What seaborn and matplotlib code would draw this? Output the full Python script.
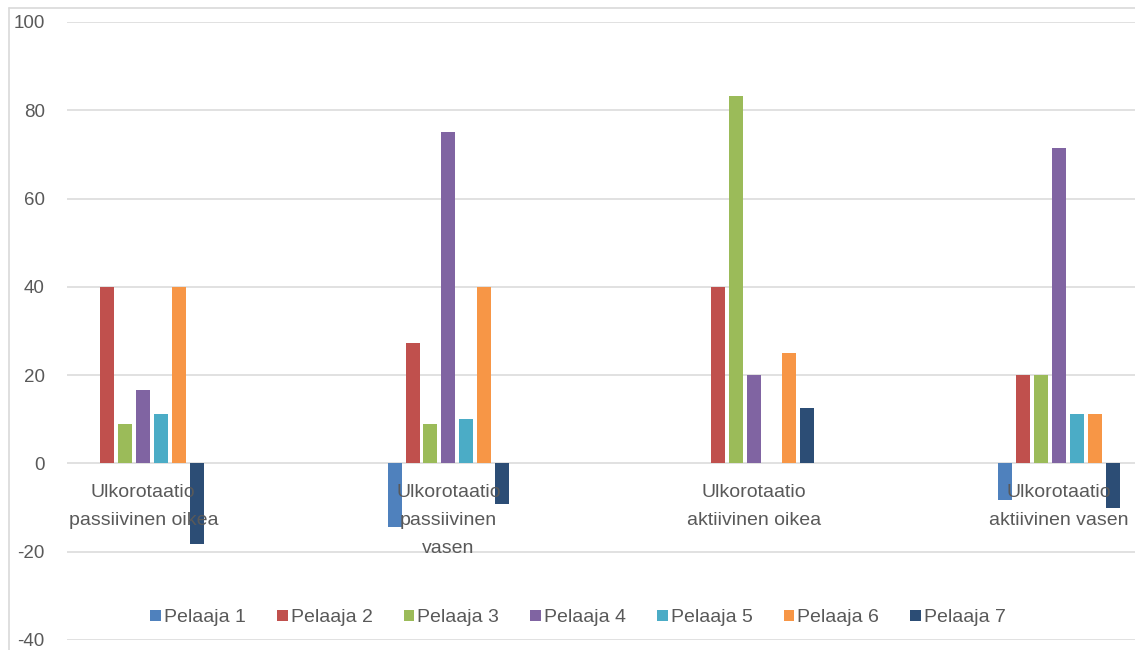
import matplotlib
matplotlib.use("Agg")
import matplotlib.pyplot as plt
from matplotlib.lines import Line2D
from matplotlib.patches import Patch
import seaborn as sns
import pandas as pd

# Category labels (wrapped as shown on the axis)
categories = [
    "Ulkorotaatio\npassiivinen oikea",
    "Ulkorotaatio\npassiivinen\nvasen",
    "Ulkorotaatio\naktiivinen oikea",
    "Ulkorotaatio\naktiivinen vasen",
]
players = ["Pelaaja 1", "Pelaaja 2", "Pelaaja 3", "Pelaaja 4",
           "Pelaaja 5", "Pelaaja 6", "Pelaaja 7"]

# Values per player, one entry per category
pelaaja_1 = [0, -14.4, 0, -8.2]
pelaaja_2 = [40, 27.3, 40, 20]
pelaaja_3 = [9.0, 9.0, 83.3, 20]
pelaaja_4 = [16.7, 75, 20, 71.4]
pelaaja_5 = [11.1, 10, 0, 11.1]
pelaaja_6 = [40, 40, 25, 11.1]
pelaaja_7 = [-18.2, -9.1, 12.5, -10]

yticks = [-40, -20, 0, 20, 40, 60, 80, 100]

colors = ["#4F81BD", "#C0504D", "#9BBB59", "#8064A2",
          "#4BACC6", "#F79646", "#2C4D75"]
text_color = "#595959"
grid_color = "#D9D9D9"

series = [pelaaja_1, pelaaja_2, pelaaja_3, pelaaja_4,
          pelaaja_5, pelaaja_6, pelaaja_7]
rows = []
for name, vals in zip(players, series):
    for cat, v in zip(categories, vals):
        rows.append({"kategoria": cat, "pelaaja": name, "arvo": v})
df = pd.DataFrame(rows)

sns.set_theme(style="white")
plt.rcParams["font.family"] = ["Liberation Sans", "DejaVu Sans"]

W, H = 1135, 650
fig = plt.figure(figsize=(W / 100, H / 100), dpi=100)
ax = fig.add_axes([67 / W, 10 / H, 1 - 67 / W, (640 - 22) / H])

sns.barplot(data=df, x="kategoria", y="arvo", hue="pelaaja",
            order=categories, hue_order=players, palette=colors,
            saturation=1, width=0.412, gap=0.22, linewidth=0,
            errorbar=None, ax=ax, zorder=2)

ax.set_xlim(-0.25, 3.25)
ax.set_ylim(-40, 100)
ax.set_yticks(yticks)
ax.set_yticklabels([str(t) for t in yticks])
ax.set_xlabel("")
ax.set_ylabel("")

# Horizontal gridlines only
ax.yaxis.grid(True, color=grid_color, linewidth=1.1, zorder=0)
ax.xaxis.grid(False)
ax.set_axisbelow(True)

# Category axis crosses at zero, labels sit just below it
for side in ["left", "right", "top"]:
    ax.spines[side].set_visible(False)
ax.spines["bottom"].set_position(("data", 0))
ax.spines["bottom"].set_visible(False)
ax.set_xticks(range(len(categories)))
ax.set_xticklabels(categories, linespacing=1.85)
ax.tick_params(axis="x", length=0, pad=15, labelsize=14, colors=text_color)
ax.tick_params(axis="y", length=0, pad=16, labelsize=13.5, colors=text_color)
ax.xaxis.set_zorder(5)

# Legend with small square keys
if ax.get_legend() is not None:
    ax.get_legend().remove()
handles = [Patch(facecolor=c, edgecolor="none") for c in colors]
fig.legend(handles, players, ncol=7, loc="center",
           bbox_to_anchor=(578 / W, 1 - 618 / H), frameon=False,
           fontsize=14, labelcolor=text_color,
           handlelength=0.55, handleheight=0.55, handletextpad=0.15,
           columnspacing=1.6)

# Chart area frame (top and left edges)
fig.add_artist(Line2D([9 / W, 9 / W], [0, 1 - 8 / H], color=grid_color,
                      linewidth=1.2, transform=fig.transFigure))
fig.add_artist(Line2D([9 / W, 1], [1 - 8 / H, 1 - 8 / H], color=grid_color,
                      linewidth=1.2, transform=fig.transFigure))

fig.savefig("out.png", dpi=100)
